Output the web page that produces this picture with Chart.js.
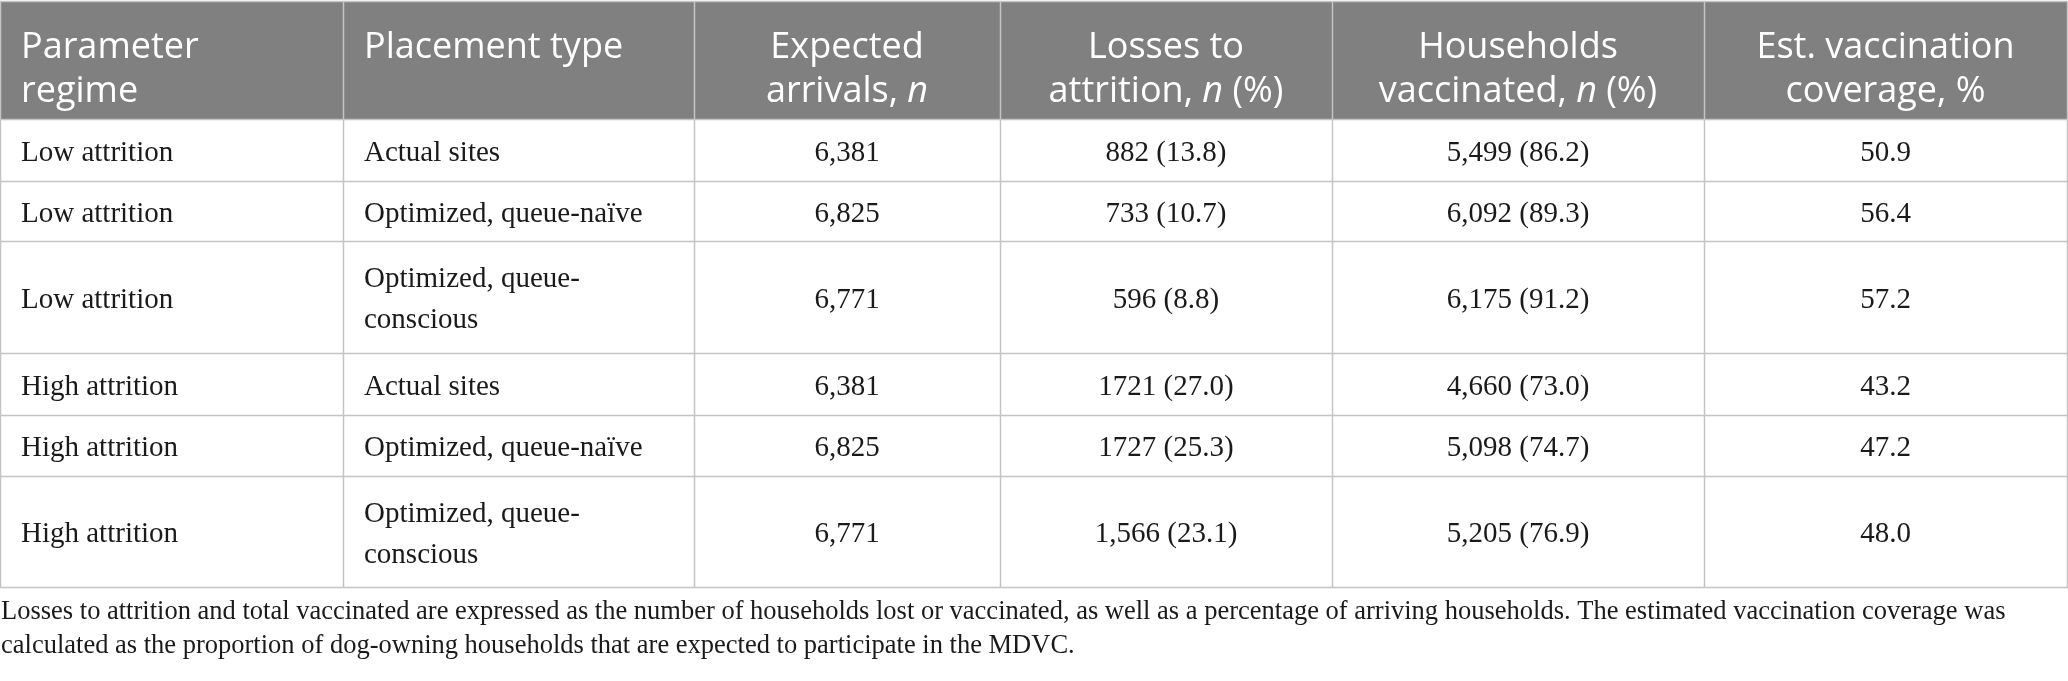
<!DOCTYPE html>
<html>
<head>
<meta charset="utf-8">
<script src="https://cdn.jsdelivr.net/npm/chart.js@4"></script>
<style>
  html, body { margin: 0; padding: 0; background: #ffffff; }
  #wrap { width: 2068px; height: 681px; }
</style>
</head>
<body>
<div id="wrap"><canvas id="myChart" width="2068" height="681"></canvas></div>
<script>
// table content
const headers = [
    [[["Parameter", false]], [["regime", false]]],
    [[["Placement type", false]]],
    [[["Expected", false]], [["arrivals, ", false], ["n", true]]],
    [[["Losses to", false]], [["attrition, ", false], ["n", true], [" (%)", false]]],
    [[["Households", false]], [["vaccinated, ", false], ["n", true], [" (%)", false]]],
    [[["Est. vaccination", false]], [["coverage, %", false]]]
];
const regimes = ["Low attrition", "Low attrition", "Low attrition", "High attrition", "High attrition", "High attrition"];
const placements = [["Actual sites"], ["Optimized, queue-naïve"], ["Optimized, queue-", "conscious"],
                    ["Actual sites"], ["Optimized, queue-naïve"], ["Optimized, queue-", "conscious"]];
const arrivals = [6381, 6825, 6771, 6381, 6825, 6771];
const losses = ["882", "733", "596", "1721", "1727", "1,566"];
const lossPct = [13.8, 10.7, 8.8, 27.0, 25.3, 23.1];
const vaccinated = [5499, 6092, 6175, 4660, 5098, 5205];
const vaccPct = [86.2, 89.3, 91.2, 73.0, 74.7, 76.9];
const coverage = [50.9, 56.4, 57.2, 43.2, 47.2, 48.0];
const captionLines = [
    "Losses to attrition and total vaccinated are expressed as the number of households lost or vaccinated, as well as a percentage of arriving households. The estimated vaccination coverage was",
    "calculated as the proportion of dog-owning households that are expected to participate in the MDVC."
];

// layout
const colEdges = [0, 343, 694, 1000, 1332, 1704, 2067];
const rowEdges = [1, 119, 181, 241, 353, 415, 476, 587];
const headFont = "36px 'Open Sans'";
const headItalic = "italic 36px 'Open Sans'";
const bodyFont = "29px 'Liberation Serif'";
const capFont = "26.5px 'Liberation Serif'";

function fmt(n) { return n.toLocaleString("en-US"); }

function bodyCells(i)
{
    return [
        [regimes[i]],
        placements[i],
        [fmt(arrivals[i])],
        [losses[i] + " (" + lossPct[i].toFixed(1) + ")"],
        [fmt(vaccinated[i]) + " (" + vaccPct[i].toFixed(1) + ")"],
        [coverage[i].toFixed(1)]
    ];
}

function drawSegs(ctx, segs, x, y, align)
{
    let w = 0;
    segs.forEach(s => { ctx.font = s[1] ? headItalic : headFont; w += ctx.measureText(s[0]).width; });
    let cx = align == "center" ? x - w / 2 : x;
    ctx.textAlign = "left";
    segs.forEach(s => {
        ctx.font = s[1] ? headItalic : headFont;
        ctx.fillText(s[0], cx, y);
        cx += ctx.measureText(s[0]).width;
    });
}

const tablePlugin = {
    id: "tableDraw",
    afterDraw(chart)
    {
        const ctx = chart.ctx;
        ctx.save();
        // header background
        ctx.fillStyle = "#808080";
        ctx.fillRect(colEdges[0], rowEdges[0], colEdges[6] - colEdges[0], rowEdges[1] - rowEdges[0]);

        // header text
        ctx.fillStyle = "#ffffff";
        ctx.textBaseline = "middle";
        for (let c = 0; c < headers.length; c++)
        {
            let left = c < 2;
            let x = left ? colEdges[c] + 21 : (colEdges[c] + colEdges[c + 1]) / 2;
            headers[c].forEach((line, k) => {
                drawSegs(ctx, line, x, 48 + k * 44, left ? "left" : "center");
            });
        }

        // body text
        ctx.fillStyle = "#1a1a1a";
        ctx.font = bodyFont;
        for (let r = 0; r < regimes.length; r++)
        {
            let cells = bodyCells(r);
            let mid = (rowEdges[r + 1] + rowEdges[r + 2]) / 2 + 3;
            for (let c = 0; c < cells.length; c++)
            {
                let left = c < 2;
                ctx.textAlign = left ? "left" : "center";
                let x = left ? colEdges[c] + 21 : (colEdges[c] + colEdges[c + 1]) / 2;
                let lines = cells[c];
                let lh = 41;
                let y0 = mid - (lines.length - 1) * lh / 2;
                lines.forEach((t, k) => ctx.fillText(t, x, y0 + k * lh));
            }
        }

        // grid lines
        ctx.strokeStyle = "#c4c4c4";
        ctx.lineWidth = 1.5;
        for (let c = 0; c < colEdges.length; c++)
        {
            ctx.beginPath();
            ctx.moveTo(colEdges[c] + 0.5, rowEdges[0]);
            ctx.lineTo(colEdges[c] + 0.5, rowEdges[rowEdges.length - 1]);
            ctx.stroke();
        }
        for (let r = 0; r < rowEdges.length; r++)
        {
            ctx.beginPath();
            ctx.moveTo(colEdges[0], rowEdges[r] + 0.5);
            ctx.lineTo(colEdges[6] + 1, rowEdges[r] + 0.5);
            ctx.stroke();
        }

        // caption
        ctx.fillStyle = "#1a1a1a";
        ctx.font = capFont;
        ctx.textAlign = "left";
        captionLines.forEach((t, k) => ctx.fillText(t, 1, 612 + k * 34));
        ctx.restore();
    }
};

let canvas = document.getElementById("myChart").getContext("2d");
let myChart = new Chart(canvas, {
    type: "bar",
    data: { labels: regimes, datasets: [{ data: coverage, backgroundColor: "rgba(0,0,0,0)" }] },
    options: {
        responsive: false,
        animation: false,
        devicePixelRatio: 1,
        events: [],
        layout: { padding: 0 },
        plugins: { legend: { display: false }, tooltip: { enabled: false } },
        scales: { x: { display: false }, y: { display: false } }
    },
    plugins: [tablePlugin]
});
</script>
</body>
</html>
